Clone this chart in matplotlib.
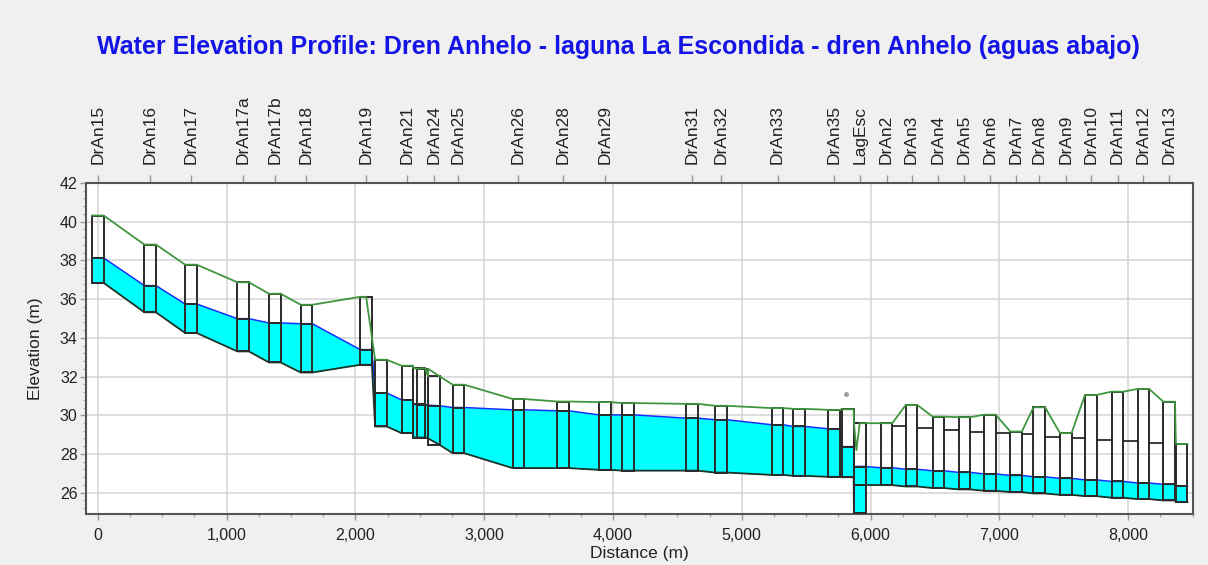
import matplotlib
matplotlib.use("Agg")
import matplotlib.pyplot as plt
from matplotlib.patches import Rectangle
from matplotlib.ticker import MultipleLocator, FuncFormatter, NullLocator

plt.rcParams['font.family'] = ['Liberation Sans', 'DejaVu Sans']

# ---- Reach 1: Dren Anhelo down to laguna La Escondida ----
up_names = ['DrAn15', 'DrAn16', 'DrAn17', 'DrAn17a', 'DrAn17b', 'DrAn18', 'DrAn19', '',
            'DrAn21', '', '', 'DrAn24', 'DrAn25', 'DrAn26', 'DrAn28', 'DrAn29', '',
            'DrAn31', 'DrAn32', 'DrAn33', '', 'DrAn35', '', 'LagEsc']
up_station = [0, 406, 723, 1128, 1374, 1620, 2083, 2198,
              2403, 2495, 2520, 2609, 2800, 3266, 3613, 3936, 4117,
              4612, 4838, 5278, 5446, 5718, 5824, 5916]
up_top = [40.32, 38.82, 37.78, 36.87, 36.28, 35.71, 36.12, 32.87,
          32.56, 32.44, 32.40, 32.01, 31.58, 30.84, 30.71, 30.68, 30.63,
          30.59, 30.49, 30.37, 30.33, 30.28, 30.31, 29.59]
up_ws = [38.13, 36.70, 35.75, 34.99, 34.77, 34.73, 33.39, 31.15,
         30.80, 30.56, 30.52, 30.49, 30.40, 30.28, 30.23, 30.02, 30.02,
         29.85, 29.77, 29.51, 29.42, 29.30, 28.38, 27.35]
up_bed = [36.84, 35.32, 34.25, 33.30, 32.73, 32.21, 32.61, 29.42,
          29.08, 28.85, 28.80, 28.47, 28.04, 27.27, 27.27, 27.18, 27.14,
          27.14, 27.04, 26.92, 26.87, 26.82, 26.80, 24.95]

# ---- Reach 2: dren Anhelo (aguas abajo) ----
dn_names = ['', 'DrAn2', 'DrAn3', 'DrAn4', 'DrAn5', 'DrAn6', 'DrAn7', 'DrAn8',
            'DrAn9', 'DrAn10', 'DrAn11', 'DrAn12', 'DrAn13', '']
dn_station = [5916, 6124, 6318, 6527, 6728, 6926, 7130, 7310,
              7516, 7710, 7918, 8118, 8319, 8416]
dn_top = [29.59, 29.59, 30.53, 29.93, 29.90, 30.03, 29.16, 30.41,
          29.08, 31.05, 31.22, 31.36, 30.70, 28.52]
dn_ws = [27.35, 27.29, 27.21, 27.13, 27.05, 26.97, 26.89, 26.82,
         26.74, 26.66, 26.58, 26.50, 26.43, 26.35]
dn_bed = [26.40, 26.39, 26.32, 26.24, 26.17, 26.10, 26.03, 25.96,
          25.89, 25.82, 25.74, 25.67, 25.60, 25.52]
# level of the horizontal segment spanning each gap between consecutive sections
dn_gap_level = [None, 29.45, 29.34, 29.25, 29.16, 29.08, 29.03, 28.90,
                28.82, 28.73, 28.68, 28.59, None]

# extra vertices of the bank line (drop after DrAn19, dip at the lagoon junction)
bank_extra_station = [2083, 5890, 5916]
bank_extra_elev = [36.12, 28.20, 29.59]

# isolated observed point
obs_station = [5810]
obs_elev = [31.1]

title = 'Water Elevation Profile: Dren Anhelo - laguna La Escondida - dren Anhelo (aguas abajo)'

HALF = 45.0            # half width of each section box (m)
CYAN = '#00ffff'
WS_BLUE = '#1030ff'
BED_COL = '#1a3326'
BOX_COL = '#2a2a2a'
BANK_GREEN = '#3f963f'


def corner_path(stations, values, half):
    xs, ys = [], []
    for s, v in zip(stations, values):
        for x in (s - half, s + half):
            if xs and x <= xs[-1]:
                continue
            xs.append(x)
            ys.append(v)
    return xs, ys


fig = plt.figure(figsize=(12.08, 5.65), dpi=100, facecolor='#f0f0f0')
ax = fig.add_axes([0.0712, 0.0903, 0.9164, 0.5858])
ax.set_facecolor('white')
ax.set_xlim(-92, 8504)
ax.set_ylim(24.9, 42.0)

# grid
ax.set_axisbelow(True)
ax.grid(True, which='major', color='#d4d4d4', linewidth=1.1)

# water between bed and water surface for each reach
for st, ws, bed in ((up_station, up_ws, up_bed), (dn_station, dn_ws, dn_bed)):
    x, w = corner_path(st, ws, HALF)
    _, b = corner_path(st, bed, HALF)
    ax.fill_between(x, b, w, color=CYAN, linewidth=0, zorder=2)
    ax.plot(x, w, color=WS_BLUE, linewidth=1.1, zorder=3)
    ax.plot(x, b, color=BED_COL, linewidth=1.3, zorder=3)

# section boxes
for st, top, ws, bed in ((up_station, up_top, up_ws, up_bed),
                         (dn_station, dn_top, dn_ws, dn_bed)):
    for s, t, w, b in zip(st, top, ws, bed):
        ax.add_patch(Rectangle((s - HALF, b), 2 * HALF, t - b, fill=False,
                               edgecolor=BOX_COL, linewidth=1.4, zorder=4))
        ax.plot([s - HALF, s + HALF], [w, w], color=BOX_COL, linewidth=1.4, zorder=4)

# horizontal segments across the gaps of the lower reach
for i, g in enumerate(dn_gap_level):
    if g is None:
        continue
    ax.plot([dn_station[i] + HALF, dn_station[i + 1] - HALF], [g, g],
            color=BOX_COL, linewidth=1.3, zorder=4)

# bank line over the box tops
pts = []
for st, top in ((up_station, up_top), (dn_station, dn_top)):
    for s, t in zip(st, top):
        pts.append((s - HALF, t))
        pts.append((s + HALF, t))
# the drop below DrAn19 leaves its box from the middle of the top
pts = [p for p in pts if p != (2083 + HALF, 36.12)]
pts += list(zip(bank_extra_station, bank_extra_elev))
pts.sort(key=lambda p: p[0])
ax.plot([p[0] for p in pts], [p[1] for p in pts], color=BANK_GREEN,
        linewidth=1.3, zorder=5)

ax.plot(obs_station, obs_elev, 'o', color='#9a9a9a', markersize=2.5, zorder=5)

# axes styling
for sp in ax.spines.values():
    sp.set_color('#555555')
    sp.set_linewidth(1.5)

ax.xaxis.set_major_locator(MultipleLocator(1000))
ax.xaxis.set_minor_locator(MultipleLocator(250))
ax.xaxis.set_major_formatter(FuncFormatter(lambda v, p: f'{int(v):,}'))
ax.yaxis.set_major_locator(MultipleLocator(2))
ax.yaxis.set_minor_locator(MultipleLocator(0.4))
ax.tick_params(axis='both', which='major', direction='out', length=4, width=1,
               color='#999999', labelsize=11.5, labelcolor='#222222')
ax.tick_params(axis='both', which='minor', direction='out', length=2.5, width=1,
               color='#aaaaaa')
ax.tick_params(axis='x', which='major', pad=6)
ax.tick_params(axis='y', which='major', pad=2)

ax.set_xlabel('Distance (m)', fontsize=12.5, color='#222222', labelpad=2)
ax.set_ylabel('Elevation (m)', fontsize=12.5, color='#222222', labelpad=12)

# section names along the top
lab_pos, lab_txt = [], []
for st, names in ((up_station, up_names), (dn_station, dn_names)):
    for s, n in zip(st, names):
        if n:
            lab_pos.append(s)
            lab_txt.append(n)
top_ax = ax.secondary_xaxis('top')
top_ax.set_xticks(lab_pos, labels=lab_txt, rotation=90)
top_ax.xaxis.set_minor_locator(NullLocator())
top_ax.tick_params(axis='x', direction='out', length=5.5, width=1, color='#999999',
                   labelsize=12.5, labelcolor='#222222', pad=8)
top_ax.spines['top'].set_visible(False)

fig.text(0.512, 0.917, title, ha='center', va='center', fontsize=18,
         fontweight='bold', color='#1414e6')

fig.savefig('out.png', dpi=100, facecolor=fig.get_facecolor())
